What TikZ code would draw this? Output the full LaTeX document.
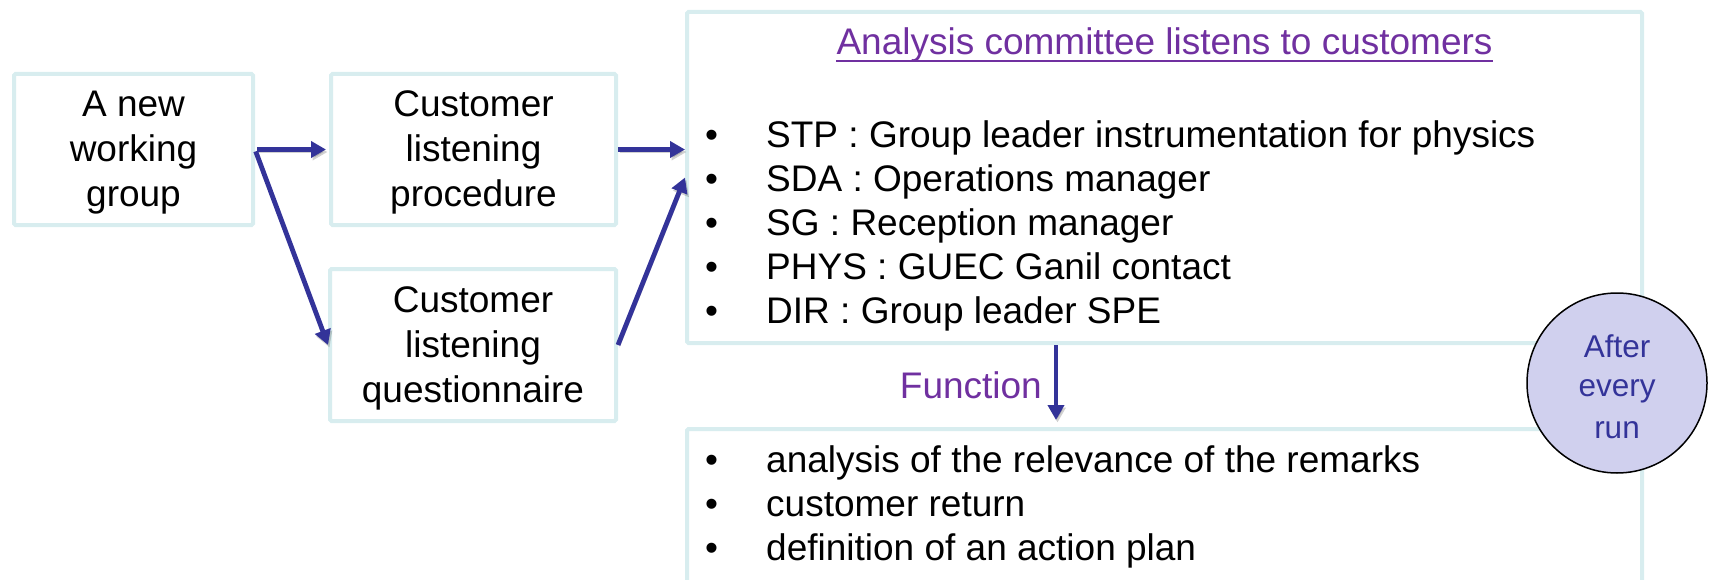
\documentclass[tikz,border=0pt]{standalone}
\usepackage{fontspec}
\setmainfont{Liberation Sans}
\usetikzlibrary{arrows.meta}

\definecolor{boxline}{HTML}{D8EDEF}
\definecolor{flow}{HTML}{333399}
\definecolor{plum}{HTML}{7030A0}
\definecolor{lavender}{HTML}{D0D0EE}

% struts that fix the line heights inside the nodes
\newcommand\boxstrut{\rule[-10pt]{0pt}{45pt}}
\newcommand\liststrut{\rule[-9pt]{0pt}{44pt}}
\newcommand\ringstrut{\rule[-4pt]{0pt}{38.5pt}}
\newcommand\listbullet{\makebox[61pt][l]{\textbullet}}

\begin{document}
\begin{tikzpicture}[x=1pt, y=-1pt,
  panel/.style={draw=boxline, line width=4pt, rounded corners=1.5pt, fill=white, inner sep=0pt},
  boxtext/.style={font=\fontsize{37}{45}\selectfont, align=center},
  listtext/.style={font=\fontsize{37}{44}\selectfont, align=left, inner sep=0pt, anchor=north west},
  flowarrow/.style={draw=flow, line width=4.8pt, -{Triangle[length=15pt,width=16pt]},
    preaction={draw=black, opacity=0.18, transform canvas={xshift=1.5pt, yshift=-2.5pt}}},
]
\useasboundingbox (0,0) rectangle (1712,580);
\clip (0,0) rectangle (1712,580);

% left column of boxes
\node[panel, boxtext, minimum width=239pt, minimum height=151pt] (grp) at (133.5,149.5)
  {\boxstrut A new\\\boxstrut working\\\boxstrut group};
\node[panel, boxtext, minimum width=285pt, minimum height=151pt] (proc) at (473.5,149.5)
  {\boxstrut Customer\\\boxstrut listening\\\boxstrut procedure};
\node[panel, boxtext, minimum width=286pt, minimum height=152pt] (quest) at (473,345)
  {\boxstrut Customer\\\boxstrut listening\\\boxstrut questionnaire};

% committee panel
\node[panel, minimum width=955pt, minimum height=331pt] (comm) at (1164.5,177.5) {};
\node[font=\fontsize{37}{44}\selectfont, text=plum, inner sep=0pt, anchor=base] (title) at (1164.5,55)
  {Analysis committee listens to customers};
\draw[plum, line width=2.5pt] ([yshift=-6pt]title.base west) -- ([yshift=-6pt]title.base east);
\node[listtext] (roles) at (705,112)
  {\listbullet\liststrut STP : Group leader instrumentation for physics\\
   \listbullet\liststrut SDA : Operations manager\\
   \listbullet\liststrut SG : Reception manager\\
   \listbullet\liststrut PHYS : GUEC Ganil contact\\
   \listbullet\liststrut DIR : Group leader SPE};

% function panel
\node[panel, minimum width=955pt, minimum height=211pt] (func) at (1164.5,534.5) {};
\node[listtext] (tasks) at (705,437)
  {\listbullet\liststrut analysis of the relevance of the remarks\\
   \listbullet\liststrut customer return\\
   \listbullet\liststrut definition of an action plan};

% connectors
\draw[flowarrow, shorten <=2pt, shorten >=3pt] (grp.east) -- (proc.west);
\draw[flowarrow, shorten <=2pt] (grp.east) -- (quest.west);
\draw[flowarrow] (proc.east) -- (proc.east -| comm.west);
\draw[flowarrow] (quest.east) -- (comm.west);
\draw[flowarrow, shorten >=7pt] ([xshift=-108.5pt]comm.south) -- ([xshift=-108.5pt]func.north);
\node[font=\fontsize{37}{44}\selectfont, text=plum, inner sep=0pt, anchor=base east] (fn) at (1042,398) {Function};

% frequency badge
\node[circle, draw=black, line width=1.5pt, fill=lavender, minimum size=180pt, inner sep=0pt,
      font=\fontsize{31.5}{38.5}\selectfont, text=flow, align=center] (ring) at (1617,383)
  {\ringstrut After\\\ringstrut every\\\ringstrut run};
\end{tikzpicture}
\end{document}
